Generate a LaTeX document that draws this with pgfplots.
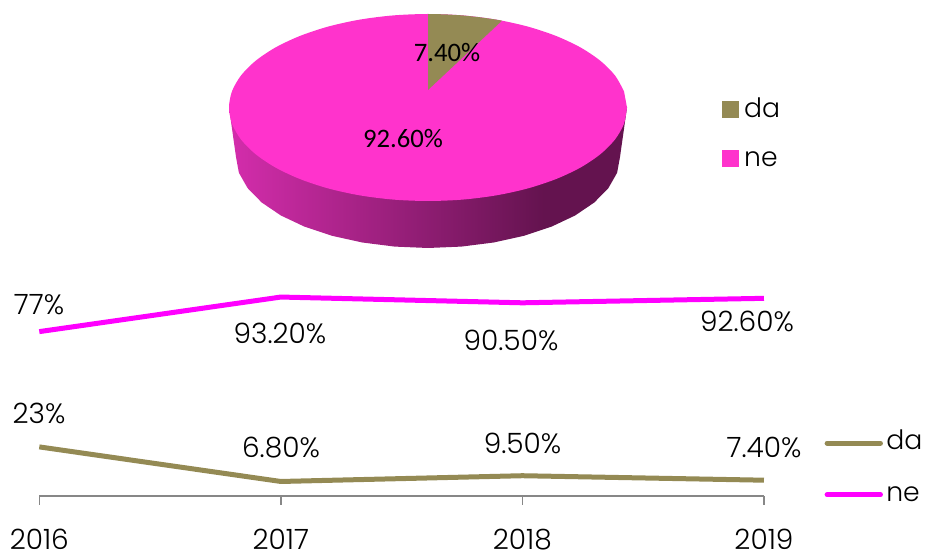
\documentclass[border=0pt]{standalone}
\usepackage{fontspec}
\setmainfont{Poppins}[UprightFont=* Light]
\newfontfamily\calib{Carlito}
\usepackage{pgfplots}
\pgfplotsset{compat=1.18}
\definecolor{dacol}{HTML}{948A54}
\definecolor{necol}{HTML}{FF00FF}
\definecolor{pietop}{HTML}{FF33CC}
\definecolor{sideA}{HTML}{D42DAC}
\definecolor{sideB}{HTML}{64134F}
% path bbox runs from 25bp to 75bp of the shading
\pgfdeclarehorizontalshading{pieside}{100bp}{color(0bp)=(sideA); color(25bp)=(sideA); color(64.5bp)=(sideB); color(100bp)=(sideB)}
\begin{document}
\begin{tikzpicture}
% pie, in image pixels
\begin{axis}[at={(0,0)},anchor=south west,scale only axis,width=694.5pt,height=414.75pt,
  xmin=0,xmax=926,ymin=0,ymax=553,y dir=reverse,hide axis,clip=false,
  legend style={at={(axis cs:722,96)},anchor=north west,draw=none,fill=none,inner sep=0pt,row sep=22pt,
    font=\fontsize{20}{20}\selectfont,nodes={inner xsep=4pt,inner ysep=1pt,anchor=base west}},
  legend cell align=left]
\addplot[draw=none,shading=pieside,forget plot] coordinates {(229,107.5)(236,157)(238.9,172.8)(247.6,188.1)(261.7,202.5)(280.9,215.5)(304.6,226.7)(332,235.8)(362.3,242.5)(394.7,246.6)(428,248)(461.3,246.6)(493.7,242.5)(524,235.8)(551.4,226.7)(575.1,215.5)(594.3,202.5)(608.4,188.1)(617.1,172.8)(620,157)(627,107.5)} --cycle;
\addplot[draw=none,fill=pietop,smooth,forget plot] coordinates {(627,107.5)(624,123.7)(615,139.5)(600.3,154.25)(580.4,167.6)(555.9,179.1)(527.5,188.5)(496.1,195.4)(462.6,199.6)(428,201)(393.4,199.6)(359.9,195.4)(328.5,188.5)(300.1,179.1)(275.6,167.6)(255.7,154.25)(241,139.5)(232,123.7)(229,107.5)(232,91.3)(241,75.5)(255.7,60.75)(275.6,47.4)(300.1,35.9)(328.5,26.5)(359.9,19.6)(393.4,15.4)(428,14)(462.6,15.4)(496.1,19.6)(527.5,26.5)(555.9,35.9)(580.4,47.4)(600.3,60.75)(615,75.5)(624,91.3)} --cycle;
\addplot[draw=none,fill=dacol,forget plot] coordinates {(428,90)(428,14)(445.3,14.35)(462.6,15.4)(479.5,17.2)(496.1,19.6)(502,20.7)} --cycle;
\addlegendimage{legend image code/.code={\fill[dacol] (0pt,0pt) rectangle (12pt,12pt);}}
\addlegendentry{da}
\addlegendimage{legend image code/.code={\fill[pietop] (0pt,0pt) rectangle (12pt,12pt);}}
\addlegendentry{ne}
\node[font={\calib\fontsize{20}{20}\selectfont}] at (axis cs:447,53) {7.40\%};
\node[font={\calib\fontsize{20}{20}\selectfont}] at (axis cs:403,139) {92.60\%};
\end{axis}
% line chart
\begin{axis}[at={(29.475pt,42.75pt)},anchor=south west,scale only axis,width=543.5pt,height=160.1pt,
  xmin=2016,xmax=2019,ymin=0,ymax=100,clip=false,
  axis x line*=bottom,axis y line=none,
  xtick={2016,2017,2018,2019},xticklabels={2016,2017,2018,2019},
  tick align=outside,major tick length=6.75pt,
  axis line style={draw=black!47,line width=1.1pt,-},
  x tick style={draw=black!47,line width=1.1pt},
  xticklabel style={font=\fontsize{21}{21}\selectfont,inner sep=0pt,yshift=-17.5pt},
  legend image code/.code={\draw[#1,line cap=round,line width=3.75pt] (0pt,5pt) -- (40pt,5pt);},
  legend style={at={(axis cs:2019.25,31.6)},anchor=north west,draw=none,fill=none,inner sep=0pt,row sep=24pt,
    font=\fontsize{20}{20}\selectfont,nodes={inner xsep=2.5pt,inner ysep=1pt,anchor=base west}},
  legend cell align=left]
\addplot[dacol,line width=3.75pt,line join=round] coordinates {(2016,23)(2017,6.8)(2018,9.5)(2019,7.4)};
\addlegendentry{da}
\addplot[necol,line width=3.75pt,line join=round] coordinates {(2016,77)(2017,93.2)(2018,90.5)(2019,92.6)};
\addlegendentry{ne}
\end{axis}
% value labels, in image pixels
\begin{axis}[at={(0,0)},anchor=south west,scale only axis,width=694.5pt,height=414.75pt,
  xmin=0,xmax=926,ymin=0,ymax=553,y dir=reverse,hide axis,clip=false]
\addplot[draw=none,forget plot] coordinates {(0,0)(926,553)};
\path (axis cs:0,0) rectangle (axis cs:926,553);
\begin{scope}[every node/.style={font=\fontsize{21}{21}\selectfont}]
\node at (axis cs:39,305) {77\%};
\node at (axis cs:280,333) {93.20\%};
\node at (axis cs:511,340) {90.50\%};
\node at (axis cs:747,321) {92.60\%};
\node at (axis cs:39,413) {23\%};
\node at (axis cs:281,448) {6.80\%};
\node at (axis cs:522.5,443) {9.50\%};
\node at (axis cs:764,447) {7.40\%};
\end{scope}
\end{axis}
\end{tikzpicture}
\end{document}
